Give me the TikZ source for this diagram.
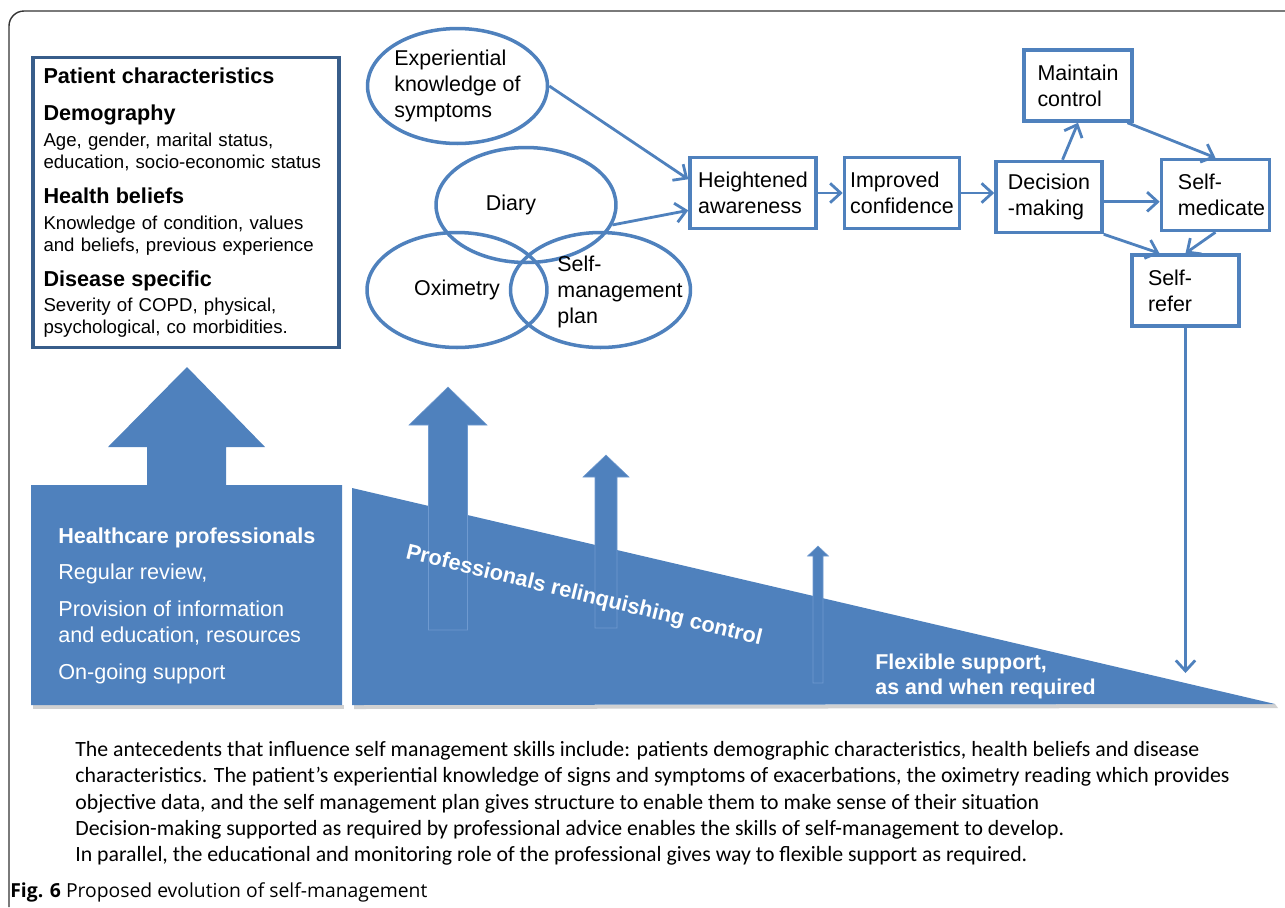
\documentclass[tikz,border=0pt]{standalone}
\usepackage{fontspec}
\setmainfont{Liberation Sans}
\newfontfamily\capfont{Carlito}
\newfontfamily\figfont{Open Sans}
\usepackage{tikz}
\usetikzlibrary{arrows.meta, positioning, shapes.geometric}
\definecolor{boxblue}{HTML}{4F81BD}
\definecolor{darkblue}{HTML}{385D8A}
\definecolor{edgeblue}{HTML}{6F9AD0}
\newcommand{\headfont}{\fontsize{12.3}{12.5}\selectfont\bfseries}
\hyphenpenalty=10000

\begin{document}
\begin{tikzpicture}[x=0.02cm, y=-0.02cm, >={Straight Barb[length=6pt, width=11pt]},
    flowbox/.style={draw=boxblue, line width=2pt, align=left, minimum height=1.42cm, inner sep=0pt, font=\fontsize{12.2}{14.7}\selectfont},
    bubble/.style={draw=boxblue, line width=2pt, ellipse, minimum width=3.6cm, minimum height=2.3cm, inner sep=0pt, align=left, font=\fontsize{12.2}{14.7}\selectfont},
    lbl/.style={inner sep=0pt, align=left, font=\fontsize{12.2}{14.7}\selectfont},
    flow/.style={->, draw=boxblue, line width=1.6pt},
    whitetxt/.style={text=white, align=left, anchor=north west, inner sep=0pt}]

    \useasboundingbox (0,0) rectangle (1285,907);

	% Frame
	\draw[black!80, line width=0.8pt, rounded corners=0.3cm] (9,907) -- (9,11) -- (1285,11);

	% Blue shapes
	\fill[black!18] (33,705) rectangle (344,709);
	\fill[black!18] (354,705) -- (1275,704) -- (1278,708) -- (354,709) -- cycle;
	\fill[boxblue] (31,705) -- (31,485) -- (147,485) -- (147,447) -- (108,447) -- (187,367) -- (265,447) -- (226,447) -- (226,485) -- (342,485) -- (342,705) -- cycle;
	\fill[boxblue] (352,488) -- (1275,704) -- (352,705) -- cycle;
	\foreach \cx/\bot/\sw/\hb/\hw/\tip in {448/630/19.5/425/39/387, 606/628/11/477/23/455, 818/683/5/556/10.5/546}
	    \filldraw[fill=boxblue, draw=edgeblue, line width=0.3pt] (\cx-\sw,\bot) -- (\cx-\sw,\hb) -- (\cx-\hw,\hb) -- (\cx,\tip) -- (\cx+\hw,\hb) -- (\cx+\sw,\hb) -- (\cx+\sw,\bot) -- cycle;

	% Define nodes
	\node (patient) [draw=darkblue, line width=2pt, minimum width=6.13cm, minimum height=5.8cm, text width=5.7cm, align=left, inner sep=0pt, font=\fontsize{10.6}{12.5}\selectfont] at (186,202.5) {{\headfont Patient characteristics}\\[9pt]
	    {\headfont Demography}\\[2pt]
	    Age, gender, marital status,\\
	    education, socio-economic status\\[7.5pt]
	    {\headfont Health beliefs}\\[2pt]
	    Knowledge of condition, values\\
	    and beliefs, previous experience\\[7.5pt]
	    {\headfont Disease specific}\\[2pt]
	    Severity of COPD, physical,\\
	    psychological, co morbidities.};

	\node (hcp) [whitetxt, font=\fontsize{12.3}{15.3}\selectfont] at (58,527) {\textbf{Healthcare professionals}\\[5.5pt]
	    Regular review,\\[5.5pt]
	    Provision of information\\
	    and education, resources\\[5.5pt]
	    On-going support};
	\node (relinq) [text=white, font=\bfseries\fontsize{12.4}{14}\selectfont, rotate=-13.7] at (584,596) {Professionals relinquishing control};
	\node (flex) [whitetxt, font=\bfseries\fontsize{12.2}{14.2}\selectfont] at (875,654) {Flexible support,\\as and when required};

	\node (exp) [bubble] at (457.5,86) {Experiential\\knowledge of\\symptoms};
	\node (dia) [bubble] at (526,205) {};
	\node (oxi) [bubble] at (457,290) {Oximetry};
	\node (plan) [bubble] at (600.5,290) {};
	\node (diatxt) [lbl] at (511,205) {Diary};
	\node (plantxt) [lbl] at (620,292) {Self-\\management\\plan};

	\node (hi) [flowbox, minimum width=2.52cm] at (753,193) {Heightened\\awareness};
	\node (ic) [flowbox, minimum width=2.3cm, right=0.5cm of hi] {Improved\\confidence};
	\node (dm) [flowbox, minimum width=2.12cm, right=0.66cm of ic, yshift=-0.08cm] {Decision\\-making};
	\node (sm) [flowbox, minimum width=2.16cm, text width=1.5cm, right=1.12cm of dm, yshift=0.04cm] {Self-\\medicate};
	\node (mc) [flowbox, minimum width=2.16cm] at (1078,85.5) {Maintain\\control};
	\node (sr) [flowbox, minimum width=2.14cm, text width=1.5cm] at (1185.5,290.5) {Self-\\refer};
	\coordinate (drop) at (1185.5,673);

	% Draw arrows
	\draw[flow] (exp.east) -- (hi.168);
	\draw[flow] (dia.-13) -- (hi.195);
	\draw[flow] (hi) -- (ic);
	\draw[flow] (ic.east) -- (ic.east -| dm.west);
	\draw[flow] (dm.70) -- (mc.south);
	\draw[flow] (mc.-37) -- (sm.north);
	\draw[flow] (dm.-5) -- (dm.-5 -| sm.west);
	\draw[flow] (dm.south east) -- (sr.125);
	\draw[flow] (sm.south) -- (sr.north);
	\draw[flow] (sr.south) -- (drop);

	% Caption
	\node (caption) [anchor=north west, align=left, inner sep=0pt, font=\capfont\fontsize{12.4}{15}\selectfont] at (75,741) {The antecedents that influence self management skills include: patients demographic characteristics, health beliefs and disease\\
	    characteristics. The patient’s experiential knowledge of signs and symptoms of exacerbations, the oximetry reading which provides\\
	    objective data, and the self management plan gives structure to enable them to make sense of their situation\\
	    Decision-making supported as required by professional advice enables the skills of self-management to develop.\\
	    In parallel, the educational and monitoring role of the professional gives way to flexible support as required.};
	\node (figcap) [anchor=north west, inner sep=0pt, font=\figfont\fontsize{11}{13}\selectfont] at (10,882) {\textbf{Fig. 6} Proposed evolution of self-management};

\end{tikzpicture}
\end{document}
